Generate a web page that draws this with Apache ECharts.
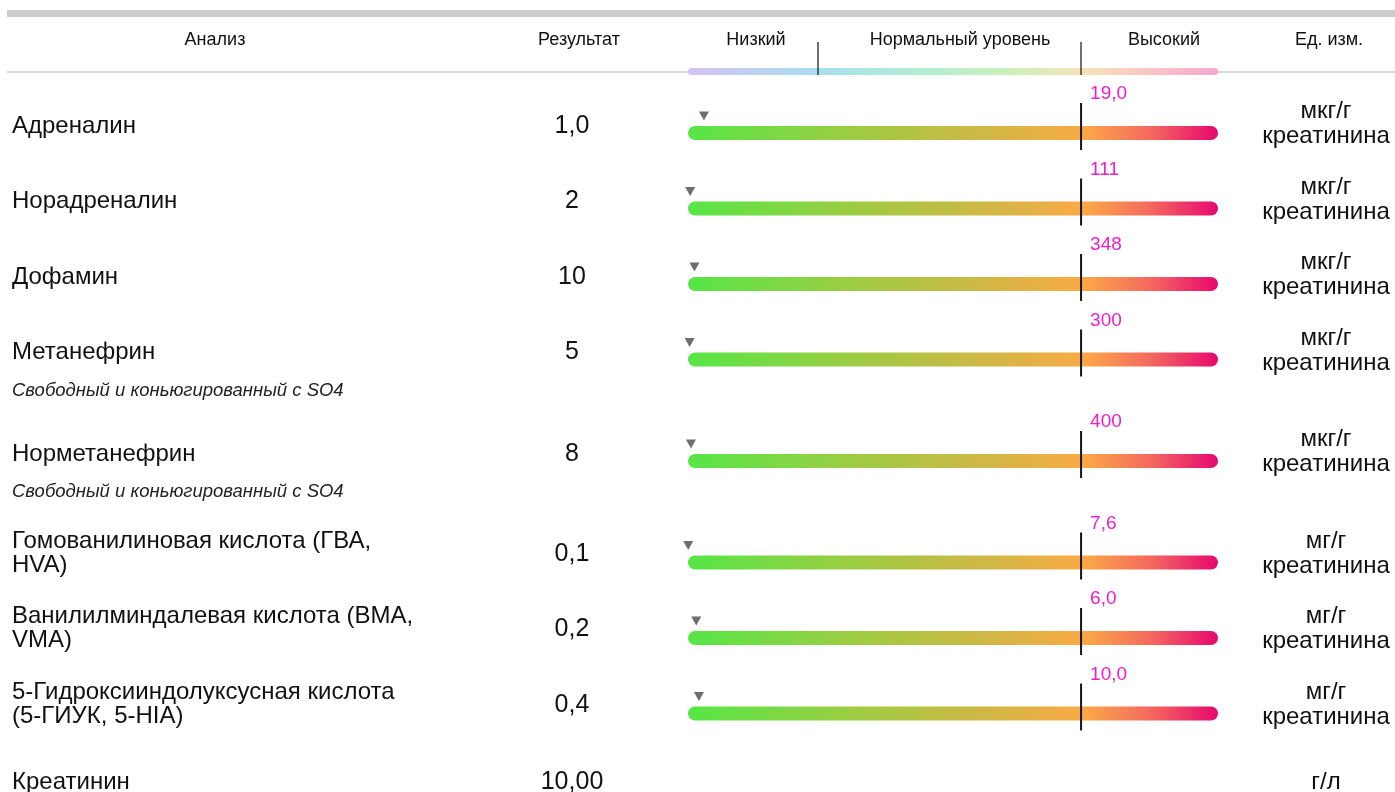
<!DOCTYPE html>
<html>
<head>
<meta charset="utf-8">
<script src="https://cdn.jsdelivr.net/npm/echarts@6/dist/echarts.min.js"></script>
<style>
html,body{margin:0;padding:0;background:#fff;}
#chart{width:1395px;height:792px;}
</style>
</head>
<body>
<div id="chart"></div>
<script>
// ---- data ----
const categories = ['Адреналин','Норадреналин','Дофамин','Метанефрин','Норметанефрин',
  'Гомованилиновая кислота (ГВА,\nHVA)','Ванилилминдалевая кислота (ВМА,\nVMA)',
  '5-Гидроксииндолуксусная кислота\n(5-ГИУК, 5-HIA)','Креатинин'];
const resultValues = [1.0, 2, 10, 5, 8, 0.1, 0.2, 0.4, 10.00];
const resultLabels = ['1,0','2','10','5','8','0,1','0,2','0,4','10,00'];
const upperValues = [19.0, 111, 348, 300, 400, 7.6, 6.0, 10.0, null];
const upperLabels = ['19,0','111','348','300','400','7,6','6,0','10,0',''];
const units = ['мкг/г\nкреатинина','мкг/г\nкреатинина','мкг/г\nкреатинина','мкг/г\nкреатинина','мкг/г\nкреатинина',
  'мг/г\nкреатинина','мг/г\nкреатинина','мг/г\nкреатинина','г/л'];
const notes = ['','','','Свободный и коньюгированный с SO4','Свободный и коньюгированный с SO4','','','',''];
const headerLabels = ['Анализ','Результат','Низкий','Нормальный уровень','Высокий','Ед. изм.'];

// ---- layout / style ----
const FONT = '"Liberation Sans", Arial, sans-serif';
const SCALE_MAX = 1.344;          // bar extends to 1.344 x upper limit
const ROW0 = 133, STEP = 75.5, NOTE_EXTRA = 26;
const BAR_LEFT = 683, BAR_W = 535;
const centers = [];
{ let y = ROW0; for (let i = 0; i < categories.length; i++) { centers.push(y); y += STEP + (notes[i] ? NOTE_EXTRA : 0); } }

const barGradient = () => new echarts.graphic.LinearGradient(0, 0, 1, 0, [
  {offset: 0, color: '#56e646'}, {offset: 0.3, color: '#9acd42'}, {offset: 0.5, color: '#c3bc45'},
  {offset: 0.68, color: '#eaaf45'}, {offset: 0.745, color: '#fbaa46'}, {offset: 0.87, color: '#f46a5e'},
  {offset: 1, color: '#e6086e'}]);
const legendGradient = new echarts.graphic.LinearGradient(0, 0, 1, 0, [
  {offset: 0, color: '#d3c3f1'}, {offset: 0.25, color: '#a9def0'}, {offset: 0.45, color: '#b3eed2'},
  {offset: 0.6, color: '#c9f0b9'}, {offset: 0.74, color: '#f6e3b6'}, {offset: 0.86, color: '#fbc8c3'},
  {offset: 1, color: '#f3a8cf'}]);

function txt(x, y, text, size, align, opts) {
  opts = opts || {};
  return {type: 'text', x: x, y: y, silent: true, style: {
    text: text, fill: opts.fill || '#111', font: (opts.italic ? 'italic ' : '') + size + 'px ' + FONT,
    textAlign: align, align: align, textVerticalAlign: 'middle', verticalAlign: 'middle',
    lineHeight: opts.lh || size + 2}};
}

const graphics = [];
// top title band and header rule
graphics.push({type: 'rect', shape: {x: 7, y: 10, width: 1388, height: 7}, style: {fill: '#cccccc'}, silent: true});
graphics.push({type: 'rect', shape: {x: 7, y: 71, width: 1388, height: 2}, style: {fill: '#d9d9d9'}, silent: true});
graphics.push({type: 'rect', shape: {x: 688, y: 68, width: 530, height: 7, r: 3.5}, style: {fill: legendGradient}, silent: true});
graphics.push({type: 'line', shape: {x1: 818, y1: 42, x2: 818, y2: 75}, style: {stroke: '#222', lineWidth: 1.3}, silent: true});
graphics.push({type: 'line', shape: {x1: 1081, y1: 42, x2: 1081, y2: 75}, style: {stroke: '#222', lineWidth: 1.3}, silent: true});
const headerX = [215, 579, 756, 960, 1164, 1329];
headerLabels.forEach((h, i) => graphics.push(txt(headerX[i], 40, h, 18, 'center')));

// row texts
categories.forEach((c, i) => {
  const bc = centers[i];
  const multi = c.indexOf('\n') >= 0;
  graphics.push(txt(12, bc - (multi ? 9.5 : 7), c, 24, 'left', {lh: 24}));
  graphics.push(txt(572, bc - (multi ? 8.5 : 7), resultLabels[i], 25, 'center'));
  const um = units[i].indexOf('\n') >= 0;
  graphics.push(txt(1326, bc - (um ? 9 : 7), units[i], 24, 'center', {lh: 25}));
  if (notes[i]) graphics.push(txt(12, bc + 31, notes[i], 18.5, 'left', {italic: true, fill: '#222'}));
});

// one grid per measured analyte
const grid = [], xAxis = [], yAxis = [], series = [];
upperValues.forEach((u, i) => {
  if (u == null) return;
  const k = grid.length;
  const bc = centers[i];
  grid.push({left: BAR_LEFT, width: BAR_W, top: bc - 7, height: 14});
  xAxis.push({gridIndex: k, type: 'value', min: 0, max: u * SCALE_MAX, show: false});
  yAxis.push({gridIndex: k, type: 'category', data: [categories[i]], show: false});
  series.push({
    type: 'custom', xAxisIndex: k, yAxisIndex: k, clip: false, silent: true,
    data: [[u, 0]],
    renderItem: function (params, api) {
      const upper = api.value(0);
      const p0 = api.coord([0, 0]);
      const p1 = api.coord([upper * SCALE_MAX, 0]);
      const pt = api.coord([upper, 0]);
      const y = p0[1];
      return {type: 'group', children: [
        {type: 'rect', shape: {x: p0[0] + 5, y: y - 7, width: p1[0] - p0[0] - 5, height: 14, r: 7},
          style: {fill: barGradient()}},
        {type: 'line', shape: {x1: pt[0], y1: y - 30, x2: pt[0], y2: y + 17},
          style: {stroke: '#151515', lineWidth: 2}},
        {type: 'text', x: pt[0] + 9, y: y - 39, style: {text: upperLabels[i], fill: '#f21cc9',
          font: '19px ' + FONT, textAlign: 'left', align: 'left', textVerticalAlign: 'middle', verticalAlign: 'middle'}}
      ]};
    }
  });
  series.push({
    type: 'scatter', xAxisIndex: k, yAxisIndex: k, silent: true, clip: false,
    data: [[resultValues[i], 0]],
    symbol: 'path://M0,0L10,0L5,9Z', symbolSize: [10, 9], symbolOffset: [0, -17],
    itemStyle: {color: '#4a4a4a'}, z: 5
  });
});

const chart = echarts.init(document.getElementById('chart'), null, {renderer: 'canvas'});
chart.setOption({
  animation: false,
  backgroundColor: '#ffffff',
  grid: grid, xAxis: xAxis, yAxis: yAxis, series: series,
  graphic: {elements: graphics}
});
</script>
</body>
</html>
